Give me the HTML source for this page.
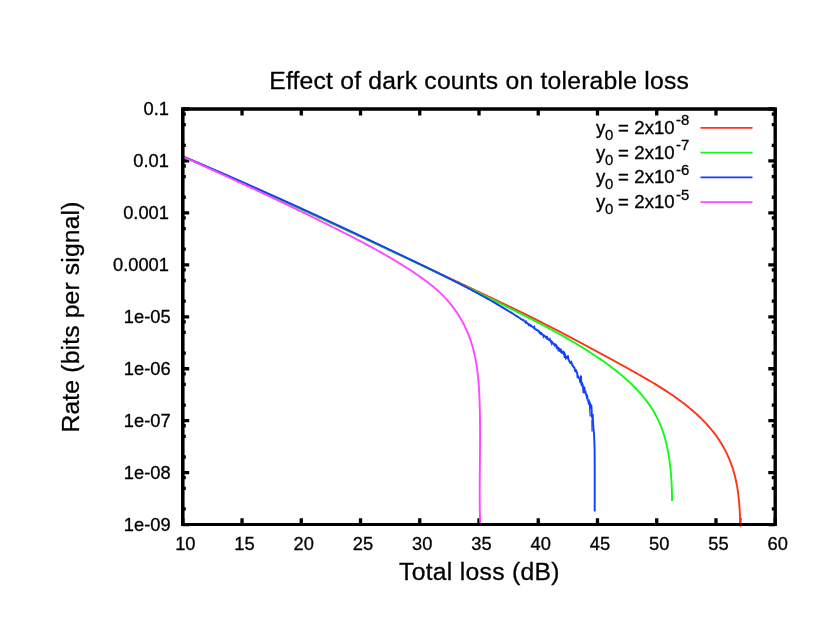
<!DOCTYPE html>
<html><head><meta charset="utf-8"><title>Effect of dark counts on tolerable loss</title>
<style>html,body{margin:0;padding:0;background:#fff;}svg{display:block;transform:translateZ(0);will-change:transform;}</style></head>
<body>
<svg width="830" height="642" viewBox="0 0 830 642">
<rect width="830" height="642" fill="#fff"/>
<g stroke="#000" stroke-width="3.3" fill="none">
<path d="M182.80,524.6 v-6.4 M182.80,109.0 v6.4"/>
<path d="M242.04,524.6 v-6.4 M242.04,109.0 v6.4"/>
<path d="M301.28,524.6 v-6.4 M301.28,109.0 v6.4"/>
<path d="M360.52,524.6 v-6.4 M360.52,109.0 v6.4"/>
<path d="M419.76,524.6 v-6.4 M419.76,109.0 v6.4"/>
<path d="M479.00,524.6 v-6.4 M479.00,109.0 v6.4"/>
<path d="M538.24,524.6 v-6.4 M538.24,109.0 v6.4"/>
<path d="M597.48,524.6 v-6.4 M597.48,109.0 v6.4"/>
<path d="M656.72,524.6 v-6.4 M656.72,109.0 v6.4"/>
<path d="M715.96,524.6 v-6.4 M715.96,109.0 v6.4"/>
<path d="M775.20,524.6 v-6.4 M775.20,109.0 v6.4"/>
<path d="M182.8,109.00 h6.4 M775.2,109.00 h-6.9"/>
<path d="M182.8,145.31 h3.0 M775.2,145.31 h-3.45"/>
<path d="M182.8,124.64 h3.0 M775.2,124.64 h-3.45"/>
<path d="M182.8,114.03 h3.0 M775.2,114.03 h-3.45"/>
<path d="M182.8,160.95 h6.4 M775.2,160.95 h-6.9"/>
<path d="M182.8,197.26 h3.0 M775.2,197.26 h-3.45"/>
<path d="M182.8,176.59 h3.0 M775.2,176.59 h-3.45"/>
<path d="M182.8,165.98 h3.0 M775.2,165.98 h-3.45"/>
<path d="M182.8,212.90 h6.4 M775.2,212.90 h-6.9"/>
<path d="M182.8,249.21 h3.0 M775.2,249.21 h-3.45"/>
<path d="M182.8,228.54 h3.0 M775.2,228.54 h-3.45"/>
<path d="M182.8,217.93 h3.0 M775.2,217.93 h-3.45"/>
<path d="M182.8,264.85 h6.4 M775.2,264.85 h-6.9"/>
<path d="M182.8,301.16 h3.0 M775.2,301.16 h-3.45"/>
<path d="M182.8,280.49 h3.0 M775.2,280.49 h-3.45"/>
<path d="M182.8,269.88 h3.0 M775.2,269.88 h-3.45"/>
<path d="M182.8,316.80 h6.4 M775.2,316.80 h-6.9"/>
<path d="M182.8,353.11 h3.0 M775.2,353.11 h-3.45"/>
<path d="M182.8,332.44 h3.0 M775.2,332.44 h-3.45"/>
<path d="M182.8,321.83 h3.0 M775.2,321.83 h-3.45"/>
<path d="M182.8,368.75 h6.4 M775.2,368.75 h-6.9"/>
<path d="M182.8,405.06 h3.0 M775.2,405.06 h-3.45"/>
<path d="M182.8,384.39 h3.0 M775.2,384.39 h-3.45"/>
<path d="M182.8,373.78 h3.0 M775.2,373.78 h-3.45"/>
<path d="M182.8,420.70 h6.4 M775.2,420.70 h-6.9"/>
<path d="M182.8,457.01 h3.0 M775.2,457.01 h-3.45"/>
<path d="M182.8,436.34 h3.0 M775.2,436.34 h-3.45"/>
<path d="M182.8,425.73 h3.0 M775.2,425.73 h-3.45"/>
<path d="M182.8,472.65 h6.4 M775.2,472.65 h-6.9"/>
<path d="M182.8,508.96 h3.0 M775.2,508.96 h-3.45"/>
<path d="M182.8,488.29 h3.0 M775.2,488.29 h-3.45"/>
<path d="M182.8,477.68 h3.0 M775.2,477.68 h-3.45"/>
<path d="M182.8,524.60 h6.4 M775.2,524.60 h-6.9"/>
</g>
<g fill="none" stroke-width="1.9" stroke-linejoin="round" stroke-linecap="butt">
<path stroke="#ff3414" d="M182.80,156.50 L184.09,157.06 L185.38,157.61 L186.66,158.17 L187.95,158.73 L189.24,159.28 L190.53,159.84 L191.81,160.40 L193.10,160.95 L194.39,161.51 L195.67,162.07 L196.96,162.63 L198.25,163.19 L199.53,163.75 L200.82,164.31 L202.10,164.87 L203.39,165.43 L204.68,165.99 L205.96,166.55 L207.25,167.12 L208.53,167.68 L209.82,168.24 L211.10,168.80 L212.39,169.37 L213.67,169.93 L214.96,170.50 L216.24,171.06 L217.53,171.62 L218.81,172.19 L220.10,172.76 L221.38,173.32 L222.67,173.89 L223.95,174.46 L225.23,175.02 L226.52,175.59 L227.80,176.16 L229.08,176.73 L230.37,177.29 L231.65,177.86 L232.93,178.43 L234.22,179.00 L235.50,179.57 L236.78,180.14 L238.07,180.71 L239.35,181.28 L240.63,181.86 L241.91,182.43 L243.20,183.00 L244.48,183.57 L245.76,184.14 L247.04,184.72 L248.33,185.29 L249.61,185.86 L250.89,186.44 L252.17,187.01 L253.45,187.59 L254.73,188.16 L256.02,188.74 L257.30,189.31 L258.58,189.89 L259.86,190.46 L261.14,191.04 L262.42,191.62 L263.70,192.19 L264.98,192.77 L266.26,193.35 L267.54,193.92 L268.82,194.50 L270.10,195.08 L271.38,195.66 L272.66,196.24 L273.94,196.82 L275.22,197.40 L276.50,197.98 L277.78,198.56 L279.06,199.14 L280.34,199.72 L281.62,200.30 L282.90,200.88 L284.18,201.46 L285.46,202.04 L286.74,202.62 L288.02,203.20 L289.30,203.79 L290.57,204.37 L291.85,204.95 L293.13,205.53 L294.41,206.12 L295.69,206.70 L296.97,207.28 L298.24,207.87 L299.52,208.45 L300.80,209.03 L302.08,209.62 L303.36,210.20 L304.63,210.79 L305.91,211.37 L307.19,211.96 L308.47,212.54 L309.74,213.13 L311.02,213.72 L312.30,214.30 L313.57,214.89 L314.85,215.47 L316.13,216.06 L317.41,216.65 L318.68,217.24 L319.96,217.82 L321.24,218.41 L322.51,219.00 L323.79,219.59 L325.06,220.17 L326.34,220.76 L327.62,221.35 L328.89,221.94 L330.17,222.53 L331.45,223.12 L332.72,223.70 L334.00,224.29 L335.27,224.88 L336.55,225.47 L337.82,226.06 L339.10,226.65 L340.37,227.24 L341.65,227.83 L342.93,228.42 L344.20,229.01 L345.48,229.60 L346.75,230.19 L348.03,230.78 L349.30,231.38 L350.58,231.97 L351.85,232.56 L353.12,233.15 L354.40,233.74 L355.67,234.33 L356.95,234.92 L358.22,235.52 L359.50,236.11 L360.77,236.70 L362.05,237.29 L363.32,237.88 L364.59,238.48 L365.87,239.07 L367.14,239.66 L368.41,240.25 L369.69,240.85 L370.96,241.44 L372.24,242.03 L373.51,242.63 L374.78,243.22 L376.06,243.81 L377.33,244.41 L378.60,245.00 L379.88,245.59 L381.15,246.19 L382.42,246.78 L383.70,247.37 L384.97,247.97 L386.24,248.56 L387.51,249.16 L388.79,249.75 L390.06,250.35 L391.33,250.94 L392.60,251.53 L393.88,252.13 L395.15,252.72 L396.42,253.32 L397.69,253.91 L398.97,254.51 L400.24,255.10 L401.51,255.70 L402.78,256.29 L404.06,256.88 L405.33,257.48 L406.60,258.07 L407.87,258.67 L409.14,259.26 L410.41,259.86 L411.69,260.45 L412.96,261.05 L414.23,261.64 L415.50,262.24 L416.77,262.83 L418.04,263.43 L419.32,264.02 L420.59,264.62 L421.86,265.21 L423.13,265.81 L424.40,266.40 L425.67,267.00 L426.94,267.59 L428.21,268.19 L429.48,268.78 L430.76,269.38 L432.03,269.97 L433.30,270.57 L434.57,271.16 L435.84,271.76 L437.11,272.35 L438.38,272.95 L439.65,273.54 L440.92,274.14 L442.19,274.74 L443.46,275.33 L444.73,275.93 L446.00,276.52 L447.27,277.12 L448.54,277.71 L449.81,278.31 L451.08,278.90 L452.35,279.50 L453.62,280.10 L454.89,280.69 L456.16,281.29 L457.43,281.88 L458.70,282.48 L459.97,283.08 L461.24,283.67 L462.51,284.27 L463.77,284.87 L465.04,285.46 L466.31,286.06 L467.58,286.66 L468.85,287.26 L470.12,287.85 L471.38,288.45 L472.65,289.05 L473.92,289.65 L475.19,290.25 L476.45,290.84 L477.72,291.44 L478.99,292.04 L480.25,292.64 L481.52,293.24 L482.79,293.84 L484.05,294.44 L485.32,295.04 L486.58,295.64 L487.85,296.24 L489.11,296.84 L490.38,297.44 L491.65,298.04 L492.91,298.65 L494.17,299.25 L495.44,299.85 L496.70,300.45 L497.97,301.06 L499.23,301.66 L500.49,302.26 L501.76,302.87 L503.02,303.47 L504.28,304.07 L505.55,304.68 L506.81,305.28 L508.07,305.89 L509.33,306.50 L510.59,307.10 L511.86,307.71 L513.12,308.32 L514.38,308.93 L515.64,309.54 L516.90,310.15 L518.16,310.76 L519.42,311.37 L520.68,311.99 L521.94,312.60 L523.20,313.22 L524.46,313.83 L525.72,314.45 L526.97,315.07 L528.23,315.69 L529.49,316.31 L530.75,316.93 L532.00,317.55 L533.26,318.18 L534.52,318.81 L535.77,319.43 L537.03,320.06 L538.28,320.69 L539.54,321.32 L540.79,321.96 L542.05,322.59 L543.30,323.23 L544.56,323.86 L545.81,324.50 L547.06,325.14 L548.32,325.79 L549.57,326.43 L550.82,327.07 L552.07,327.72 L553.33,328.37 L554.58,329.01 L555.83,329.66 L557.08,330.31 L558.33,330.96 L559.58,331.62 L560.83,332.27 L562.08,332.92 L563.32,333.58 L564.57,334.23 L565.82,334.89 L567.07,335.55 L568.32,336.21 L569.56,336.87 L570.81,337.53 L572.05,338.19 L573.30,338.85 L574.55,339.51 L575.79,340.17 L577.03,340.84 L578.28,341.50 L579.52,342.17 L580.76,342.83 L582.01,343.50 L583.25,344.16 L584.49,344.83 L585.73,345.49 L586.97,346.16 L588.21,346.83 L589.45,347.49 L590.69,348.16 L591.93,348.83 L593.17,349.50 L594.41,350.17 L595.65,350.83 L596.88,351.50 L598.12,352.17 L599.36,352.84 L600.59,353.51 L601.83,354.17 L603.06,354.84 L604.30,355.51 L605.53,356.18 L606.77,356.85 L608.00,357.51 L609.23,358.18 L610.46,358.85 L611.70,359.52 L612.93,360.19 L614.16,360.86 L615.39,361.53 L616.62,362.21 L617.85,362.88 L619.07,363.55 L620.30,364.23 L621.53,364.90 L622.76,365.58 L623.98,366.25 L625.21,366.93 L626.44,367.61 L627.66,368.29 L628.88,368.97 L630.11,369.65 L631.33,370.34 L632.55,371.02 L633.78,371.71 L635.00,372.40 L636.22,373.09 L637.44,373.78 L638.66,374.47 L639.88,375.16 L641.10,375.86 L642.31,376.56 L643.53,377.26 L644.75,377.96 L645.96,378.67 L647.18,379.37 L648.39,380.08 L649.60,380.80 L650.81,381.51 L652.02,382.23 L653.23,382.95 L654.43,383.67 L655.63,384.40 L656.83,385.13 L658.03,385.87 L659.22,386.61 L660.42,387.35 L661.61,388.10 L662.79,388.85 L663.98,389.61 L665.16,390.37 L666.34,391.13 L667.51,391.90 L668.68,392.68 L669.85,393.46 L671.01,394.24 L672.17,395.03 L673.33,395.83 L674.48,396.63 L675.63,397.44 L676.77,398.25 L677.91,399.07 L679.04,399.90 L680.17,400.73 L681.30,401.57 L682.41,402.41 L683.53,403.26 L684.64,404.12 L685.74,404.99 L686.84,405.86 L687.93,406.74 L689.02,407.63 L690.10,408.52 L691.18,409.43 L692.24,410.34 L693.31,411.25 L694.36,412.18 L695.41,413.12 L696.46,414.06 L697.49,415.01 L698.52,415.97 L699.54,416.94 L700.56,417.92 L701.56,418.91 L702.56,419.90 L703.55,420.90 L704.53,421.92 L705.50,422.94 L706.46,423.97 L707.41,425.00 L708.35,426.05 L709.28,427.11 L710.19,428.17 L711.10,429.25 L711.99,430.33 L712.88,431.42 L713.75,432.52 L714.60,433.63 L715.45,434.75 L716.28,435.88 L717.09,437.02 L717.89,438.16 L718.68,439.32 L719.45,440.48 L720.21,441.66 L720.95,442.84 L721.68,444.03 L722.39,445.23 L723.09,446.44 L723.77,447.66 L724.44,448.88 L725.09,450.12 L725.72,451.36 L726.34,452.61 L726.95,453.87 L727.54,455.13 L728.11,456.40 L728.67,457.68 L729.22,458.96 L729.75,460.26 L730.26,461.55 L730.76,462.86 L731.25,464.17 L731.72,465.49 L732.17,466.81 L732.61,468.14 L733.03,469.47 L733.44,470.81 L733.84,472.15 L734.22,473.50 L734.58,474.85 L734.93,476.21 L735.26,477.57 L735.58,478.93 L735.89,480.30 L736.18,481.68 L736.46,483.05 L736.73,484.43 L736.98,485.82 L737.22,487.20 L737.45,488.59 L737.67,489.98 L737.88,491.38 L738.07,492.77 L738.26,494.17 L738.43,495.57 L738.60,496.97 L738.75,498.38 L738.89,499.78 L739.03,501.19 L739.16,502.60 L739.28,504.00 L739.39,505.41 L739.49,506.82 L739.58,508.23 L739.67,509.64 L739.75,511.05 L739.83,512.46 L739.89,513.87 L739.96,515.28 L740.01,516.69 L740.07,518.09 L740.11,519.50 L740.15,520.90 L740.19,522.31 L740.23,523.71 L740.26,525.11 L740.28,526.50"/>
<path fill="#ff3414" stroke="none" d="M739.2,518 L741.9,518 L741.6,522 L740.5,528.2 L739.6,522 Z"/>
<path stroke="#12fa1a" d="M182.80,156.50 L183.96,157.01 L185.13,157.51 L186.29,158.01 L187.45,158.52 L188.62,159.02 L189.78,159.53 L190.94,160.03 L192.11,160.54 L193.27,161.04 L194.43,161.55 L195.60,162.05 L196.76,162.56 L197.92,163.07 L199.08,163.57 L200.25,164.08 L201.41,164.59 L202.57,165.09 L203.73,165.60 L204.89,166.11 L206.06,166.62 L207.22,167.13 L208.38,167.63 L209.54,168.14 L210.70,168.65 L211.86,169.16 L213.02,169.67 L214.18,170.18 L215.34,170.69 L216.50,171.20 L217.66,171.71 L218.82,172.22 L219.98,172.73 L221.14,173.24 L222.30,173.75 L223.46,174.27 L224.62,174.78 L225.78,175.29 L226.94,175.80 L228.10,176.31 L229.25,176.83 L230.41,177.34 L231.57,177.85 L232.73,178.36 L233.89,178.88 L235.05,179.39 L236.20,179.90 L237.36,180.42 L238.52,180.93 L239.68,181.45 L240.83,181.96 L241.99,182.48 L243.15,182.99 L244.30,183.51 L245.46,184.02 L246.62,184.54 L247.77,185.05 L248.93,185.57 L250.09,186.09 L251.24,186.60 L252.40,187.12 L253.55,187.64 L254.71,188.16 L255.87,188.67 L257.02,189.19 L258.18,189.71 L259.33,190.23 L260.49,190.74 L261.64,191.26 L262.80,191.78 L263.95,192.30 L265.11,192.82 L266.26,193.34 L267.42,193.86 L268.57,194.38 L269.73,194.90 L270.88,195.42 L272.03,195.94 L273.19,196.46 L274.34,196.98 L275.49,197.50 L276.65,198.02 L277.80,198.54 L278.96,199.07 L280.11,199.59 L281.26,200.11 L282.42,200.63 L283.57,201.16 L284.72,201.68 L285.87,202.20 L287.03,202.72 L288.18,203.25 L289.33,203.77 L290.48,204.29 L291.64,204.82 L292.79,205.34 L293.94,205.87 L295.09,206.39 L296.25,206.92 L297.40,207.44 L298.55,207.97 L299.70,208.49 L300.85,209.02 L302.00,209.54 L303.16,210.07 L304.31,210.60 L305.46,211.12 L306.61,211.65 L307.76,212.17 L308.91,212.70 L310.06,213.23 L311.21,213.76 L312.36,214.28 L313.51,214.81 L314.67,215.34 L315.82,215.87 L316.97,216.40 L318.12,216.92 L319.27,217.45 L320.42,217.98 L321.57,218.51 L322.72,219.04 L323.87,219.57 L325.02,220.10 L326.17,220.63 L327.32,221.16 L328.47,221.69 L329.62,222.22 L330.77,222.75 L331.92,223.28 L333.06,223.81 L334.21,224.34 L335.36,224.88 L336.51,225.41 L337.66,225.94 L338.81,226.47 L339.96,227.00 L341.11,227.53 L342.26,228.07 L343.41,228.60 L344.55,229.13 L345.70,229.67 L346.85,230.20 L348.00,230.73 L349.15,231.27 L350.30,231.80 L351.45,232.33 L352.59,232.87 L353.74,233.40 L354.89,233.94 L356.04,234.47 L357.19,235.01 L358.34,235.54 L359.48,236.08 L360.63,236.61 L361.78,237.15 L362.93,237.68 L364.08,238.22 L365.22,238.76 L366.37,239.29 L367.52,239.83 L368.67,240.37 L369.81,240.90 L370.96,241.44 L372.11,241.98 L373.26,242.52 L374.40,243.05 L375.55,243.59 L376.70,244.13 L377.85,244.67 L378.99,245.21 L380.14,245.74 L381.29,246.28 L382.43,246.82 L383.58,247.36 L384.73,247.90 L385.88,248.44 L387.02,248.98 L388.17,249.52 L389.32,250.06 L390.46,250.60 L391.61,251.14 L392.76,251.68 L393.90,252.22 L395.05,252.76 L396.20,253.30 L397.34,253.84 L398.49,254.38 L399.64,254.93 L400.78,255.47 L401.93,256.01 L403.08,256.55 L404.22,257.09 L405.37,257.64 L406.52,258.18 L407.66,258.72 L408.81,259.26 L409.96,259.81 L411.10,260.35 L412.25,260.89 L413.40,261.44 L414.54,261.98 L415.69,262.53 L416.84,263.07 L417.98,263.61 L419.13,264.16 L420.27,264.70 L421.42,265.25 L422.57,265.79 L423.71,266.34 L424.86,266.88 L426.01,267.43 L427.15,267.97 L428.30,268.52 L429.44,269.07 L430.59,269.61 L431.73,270.16 L432.88,270.71 L434.02,271.25 L435.17,271.80 L436.31,272.35 L437.46,272.90 L438.60,273.44 L439.75,273.99 L440.89,274.54 L442.04,275.09 L443.18,275.64 L444.33,276.19 L445.47,276.73 L446.62,277.28 L447.76,277.83 L448.90,278.38 L450.05,278.93 L451.19,279.48 L452.33,280.03 L453.48,280.59 L454.62,281.14 L455.76,281.69 L456.90,282.24 L458.05,282.79 L459.19,283.34 L460.33,283.90 L461.47,284.45 L462.61,285.00 L463.76,285.55 L464.90,286.11 L466.04,286.66 L467.18,287.22 L468.32,287.77 L469.46,288.32 L470.60,288.88 L471.74,289.43 L472.88,289.99 L474.02,290.55 L475.16,291.10 L476.30,291.66 L477.44,292.21 L478.58,292.77 L479.71,293.33 L480.85,293.89 L481.99,294.44 L483.13,295.00 L484.26,295.56 L485.40,296.12 L486.54,296.68 L487.68,297.24 L488.81,297.80 L489.95,298.36 L491.08,298.92 L492.22,299.48 L493.35,300.04 L494.49,300.60 L495.62,301.16 L496.76,301.72 L497.89,302.28 L499.02,302.84 L500.16,303.41 L501.29,303.97 L502.42,304.53 L503.55,305.10 L504.69,305.66 L505.82,306.23 L506.95,306.79 L508.08,307.36 L509.21,307.92 L510.34,308.49 L511.47,309.05 L512.60,309.62 L513.73,310.19 L514.86,310.75 L515.99,311.32 L517.11,311.89 L518.24,312.46 L519.37,313.03 L520.50,313.60 L521.62,314.16 L522.75,314.73 L523.87,315.30 L525.00,315.88 L526.12,316.45 L527.25,317.02 L528.37,317.59 L529.49,318.17 L530.62,318.74 L531.74,319.31 L532.86,319.89 L533.98,320.47 L535.10,321.05 L536.22,321.62 L537.34,322.20 L538.46,322.79 L539.58,323.37 L540.69,323.95 L541.81,324.54 L542.93,325.12 L544.04,325.71 L545.15,326.30 L546.27,326.89 L547.38,327.48 L548.49,328.07 L549.60,328.67 L550.71,329.27 L551.82,329.86 L552.93,330.47 L554.04,331.07 L555.15,331.67 L556.25,332.28 L557.36,332.88 L558.46,333.49 L559.56,334.11 L560.67,334.72 L561.77,335.34 L562.87,335.95 L563.97,336.58 L565.06,337.20 L566.16,337.82 L567.26,338.45 L568.35,339.08 L569.45,339.71 L570.54,340.35 L571.63,340.99 L572.72,341.63 L573.81,342.27 L574.90,342.92 L575.98,343.57 L577.07,344.22 L578.15,344.87 L579.24,345.53 L580.32,346.19 L581.40,346.85 L582.48,347.52 L583.56,348.19 L584.63,348.86 L585.71,349.54 L586.78,350.22 L587.85,350.90 L588.92,351.59 L589.99,352.28 L591.06,352.97 L592.13,353.67 L593.19,354.37 L594.26,355.07 L595.32,355.78 L596.38,356.49 L597.44,357.20 L598.50,357.92 L599.55,358.65 L600.61,359.37 L601.66,360.10 L602.71,360.84 L603.76,361.58 L604.81,362.32 L605.85,363.07 L606.89,363.82 L607.93,364.57 L608.97,365.33 L610.00,366.10 L611.03,366.87 L612.05,367.64 L613.08,368.42 L614.10,369.20 L615.11,369.99 L616.12,370.78 L617.12,371.58 L618.12,372.39 L619.12,373.19 L620.11,374.01 L621.10,374.82 L622.08,375.65 L623.05,376.48 L624.02,377.31 L624.99,378.15 L625.94,378.99 L626.90,379.84 L627.84,380.70 L628.78,381.56 L629.71,382.43 L630.63,383.30 L631.55,384.18 L632.46,385.06 L633.36,385.95 L634.26,386.85 L635.15,387.75 L636.03,388.66 L636.90,389.58 L637.76,390.50 L638.61,391.42 L639.46,392.36 L640.30,393.30 L641.12,394.24 L641.94,395.20 L642.75,396.16 L643.55,397.12 L644.34,398.10 L645.12,399.08 L645.89,400.06 L646.64,401.06 L647.39,402.06 L648.13,403.06 L648.86,404.08 L649.57,405.10 L650.28,406.13 L650.97,407.17 L651.65,408.21 L652.32,409.26 L652.98,410.32 L653.62,411.39 L654.25,412.46 L654.87,413.54 L655.48,414.63 L656.08,415.73 L656.66,416.83 L657.23,417.94 L657.78,419.06 L658.32,420.19 L658.85,421.33 L659.36,422.47 L659.86,423.62 L660.35,424.78 L660.83,425.95 L661.29,427.12 L661.74,428.30 L662.17,429.49 L662.60,430.68 L663.01,431.88 L663.41,433.08 L663.79,434.29 L664.17,435.51 L664.53,436.72 L664.89,437.95 L665.23,439.18 L665.56,440.41 L665.88,441.65 L666.19,442.89 L666.49,444.13 L666.78,445.38 L667.06,446.63 L667.32,447.88 L667.58,449.14 L667.83,450.40 L668.07,451.66 L668.31,452.92 L668.53,454.18 L668.74,455.44 L668.95,456.71 L669.14,457.98 L669.33,459.24 L669.51,460.51 L669.68,461.78 L669.85,463.04 L670.00,464.31 L670.15,465.58 L670.30,466.84 L670.43,468.11 L670.56,469.38 L670.68,470.64 L670.80,471.91 L670.91,473.17 L671.01,474.44 L671.11,475.70 L671.20,476.96 L671.29,478.23 L671.37,479.49 L671.44,480.75 L671.51,482.02 L671.58,483.28 L671.64,484.54 L671.69,485.80 L671.75,487.06 L671.79,488.32 L671.84,489.58 L671.88,490.84 L671.92,492.10 L671.95,493.36 L671.98,494.62 L672.01,495.87 L672.03,497.13 L672.05,498.39 L672.07,499.64 L672.09,500.90"/>
<path stroke="#123eff" stroke-linejoin="miter" stroke-miterlimit="3.2" d="M182.80,156.30 L183.22,156.48 L183.64,156.65 L184.06,156.83 L184.48,157.01 L184.90,157.19 L185.32,157.37 L185.74,157.54 L186.16,157.72 L186.58,157.90 L187.00,158.08 L187.42,158.26 L187.84,158.44 L188.26,158.61 L188.68,158.79 L189.10,158.97 L189.52,159.15 L189.94,159.33 L190.36,159.51 L190.78,159.69 L191.20,159.87 L191.62,160.04 L192.04,160.22 L192.46,160.40 L192.88,160.58 L193.30,160.76 L193.72,160.94 L194.14,161.12 L194.56,161.30 L194.98,161.48 L195.40,161.66 L195.82,161.84 L196.24,162.02 L196.66,162.20 L197.08,162.38 L197.50,162.55 L197.92,162.73 L198.34,162.91 L198.76,163.09 L199.18,163.27 L199.60,163.45 L200.02,163.63 L200.44,163.81 L200.86,163.99 L201.28,164.17 L201.70,164.35 L202.12,164.53 L202.54,164.71 L202.96,164.90 L203.38,165.08 L203.80,165.26 L204.22,165.44 L204.64,165.62 L205.06,165.80 L205.48,165.98 L205.90,166.16 L206.32,166.34 L206.74,166.52 L207.16,166.70 L207.58,166.88 L208.00,167.06 L208.42,167.24 L208.84,167.43 L209.26,167.61 L209.68,167.79 L210.10,167.97 L210.52,168.15 L210.94,168.33 L211.36,168.51 L211.78,168.69 L212.20,168.88 L212.62,169.06 L213.04,169.24 L213.46,169.42 L213.88,169.60 L214.30,169.78 L214.72,169.96 L215.14,170.15 L215.56,170.33 L215.98,170.51 L216.40,170.69 L216.82,170.87 L217.24,171.06 L217.66,171.24 L218.08,171.42 L218.50,171.60 L218.92,171.79 L219.34,171.97 L219.76,172.15 L220.18,172.33 L220.60,172.51 L221.02,172.70 L221.44,172.88 L221.86,173.06 L222.28,173.25 L222.70,173.43 L223.12,173.61 L223.54,173.79 L223.96,173.98 L224.38,174.16 L224.80,174.34 L225.22,174.53 L225.64,174.71 L226.06,174.89 L226.48,175.07 L226.90,175.26 L227.32,175.44 L227.74,175.62 L228.16,175.81 L228.58,175.99 L229.00,176.17 L229.42,176.36 L229.84,176.54 L230.26,176.72 L230.68,176.91 L231.10,177.09 L231.52,177.28 L231.94,177.46 L232.36,177.64 L232.78,177.83 L233.20,178.01 L233.62,178.20 L234.04,178.38 L234.46,178.56 L234.88,178.75 L235.30,178.93 L235.72,179.12 L236.14,179.30 L236.56,179.48 L236.98,179.67 L237.40,179.85 L237.82,180.04 L238.24,180.22 L238.66,180.41 L239.08,180.59 L239.50,180.78 L239.92,180.96 L240.34,181.15 L240.76,181.33 L241.18,181.52 L241.60,181.70 L242.02,181.89 L242.44,182.07 L242.86,182.26 L243.28,182.44 L243.70,182.63 L244.12,182.81 L244.54,183.00 L244.96,183.18 L245.38,183.37 L245.80,183.55 L246.22,183.74 L246.64,183.92 L247.06,184.11 L247.48,184.29 L247.90,184.48 L248.32,184.67 L248.74,184.85 L249.16,185.04 L249.58,185.22 L250.00,185.41 L250.42,185.60 L250.84,185.78 L251.26,185.97 L251.68,186.15 L252.10,186.34 L252.52,186.53 L252.94,186.71 L253.36,186.90 L253.78,187.08 L254.20,187.27 L254.62,187.46 L255.04,187.64 L255.46,187.83 L255.88,188.02 L256.30,188.20 L256.72,188.39 L257.14,188.58 L257.56,188.76 L257.98,188.95 L258.40,189.14 L258.82,189.32 L259.24,189.51 L259.66,189.70 L260.08,189.88 L260.50,190.07 L260.92,190.26 L261.34,190.45 L261.76,190.63 L262.18,190.82 L262.60,191.01 L263.02,191.20 L263.44,191.38 L263.86,191.57 L264.28,191.76 L264.70,191.94 L265.12,192.13 L265.54,192.32 L265.96,192.51 L266.38,192.70 L266.80,192.88 L267.22,193.07 L267.64,193.26 L268.06,193.45 L268.48,193.63 L268.90,193.82 L269.32,194.01 L269.74,194.20 L270.16,194.39 L270.58,194.58 L271.00,194.76 L271.42,194.95 L271.84,195.14 L272.26,195.33 L272.68,195.52 L273.10,195.71 L273.52,195.89 L273.94,196.08 L274.36,196.27 L274.78,196.46 L275.20,196.65 L275.62,196.84 L276.04,197.03 L276.46,197.21 L276.88,197.40 L277.30,197.59 L277.72,197.78 L278.14,197.97 L278.56,198.16 L278.98,198.35 L279.40,198.54 L279.82,198.73 L280.24,198.92 L280.66,199.11 L281.08,199.29 L281.50,199.48 L281.92,199.67 L282.34,199.86 L282.76,200.05 L283.18,200.24 L283.60,200.43 L284.02,200.62 L284.44,200.81 L284.86,201.00 L285.28,201.19 L285.70,201.38 L286.12,201.57 L286.54,201.76 L286.96,201.95 L287.38,202.14 L287.80,202.33 L288.22,202.52 L288.64,202.71 L289.06,202.90 L289.48,203.09 L289.90,203.28 L290.32,203.47 L290.74,203.66 L291.16,203.85 L291.58,204.04 L292.00,204.23 L292.42,204.42 L292.84,204.61 L293.26,204.80 L293.68,205.00 L294.10,205.19 L294.52,205.38 L294.94,205.57 L295.36,205.76 L295.78,205.95 L296.20,206.14 L296.62,206.33 L297.04,206.52 L297.46,206.71 L297.88,206.90 L298.30,207.10 L298.72,207.29 L299.14,207.48 L299.56,207.67 L299.98,207.86 L300.40,208.05 L300.82,208.24 L301.24,208.44 L301.66,208.63 L302.08,208.82 L302.50,209.01 L302.92,209.20 L303.34,209.39 L303.76,209.58 L304.18,209.78 L304.60,209.97 L305.02,210.16 L305.44,210.35 L305.86,210.54 L306.28,210.74 L306.70,210.93 L307.12,211.12 L307.54,211.31 L307.96,211.50 L308.38,211.70 L308.80,211.89 L309.22,212.08 L309.64,212.27 L310.06,212.47 L310.48,212.66 L310.90,212.85 L311.32,213.04 L311.74,213.24 L312.16,213.43 L312.58,213.62 L313.00,213.81 L313.42,214.01 L313.84,214.20 L314.26,214.39 L314.68,214.58 L315.10,214.78 L315.52,214.97 L315.94,215.16 L316.36,215.36 L316.78,215.55 L317.20,215.74 L317.62,215.94 L318.04,216.13 L318.46,216.32 L318.88,216.52 L319.30,216.71 L319.72,216.90 L320.14,217.09 L320.56,217.29 L320.98,217.48 L321.40,217.68 L321.82,217.87 L322.24,218.06 L322.66,218.26 L323.08,218.45 L323.50,218.64 L323.92,218.84 L324.34,219.03 L324.76,219.22 L325.18,219.42 L325.60,219.61 L326.02,219.81 L326.44,220.00 L326.86,220.19 L327.28,220.39 L327.70,220.58 L328.12,220.78 L328.54,220.97 L328.96,221.17 L329.38,221.36 L329.80,221.55 L330.22,221.75 L330.64,221.94 L331.06,222.14 L331.48,222.33 L331.90,222.53 L332.32,222.72 L332.74,222.92 L333.16,223.11 L333.58,223.30 L334.00,223.50 L334.42,223.69 L334.84,223.89 L335.26,224.08 L335.68,224.28 L336.10,224.47 L336.52,224.67 L336.94,224.86 L337.36,225.06 L337.78,225.25 L338.20,225.45 L338.62,225.64 L339.04,225.84 L339.46,226.03 L339.88,226.23 L340.30,226.42 L340.72,226.62 L341.14,226.82 L341.56,227.01 L341.98,227.21 L342.40,227.40 L342.82,227.60 L343.24,227.79 L343.66,227.99 L344.08,228.18 L344.50,228.38 L344.92,228.58 L345.34,228.77 L345.76,228.97 L346.18,229.16 L346.60,229.36 L347.02,229.56 L347.44,229.75 L347.86,229.95 L348.28,230.14 L348.70,230.34 L349.12,230.54 L349.54,230.73 L349.96,230.93 L350.38,231.12 L350.80,231.32 L351.22,231.52 L351.64,231.71 L352.06,231.91 L352.48,232.11 L352.90,232.30 L353.32,232.50 L353.74,232.70 L354.16,232.89 L354.58,233.09 L355.00,233.29 L355.42,233.48 L355.84,233.68 L356.26,233.88 L356.68,234.07 L357.10,234.27 L357.52,234.47 L357.94,234.66 L358.36,234.86 L358.78,235.06 L359.20,235.25 L359.62,235.45 L360.04,235.65 L360.46,235.85 L360.88,236.04 L361.30,236.24 L361.72,236.44 L362.14,236.63 L362.56,236.83 L362.98,237.03 L363.40,237.23 L363.82,237.42 L364.24,237.62 L364.66,237.82 L365.08,238.02 L365.50,238.21 L365.92,238.41 L366.34,238.61 L366.76,238.81 L367.18,239.01 L367.60,239.20 L368.02,239.40 L368.44,239.60 L368.86,239.80 L369.28,239.99 L369.70,240.19 L370.12,240.39 L370.54,240.59 L370.96,240.79 L371.38,240.99 L371.80,241.18 L372.22,241.38 L372.64,241.58 L373.06,241.78 L373.48,241.98 L373.90,242.17 L374.32,242.37 L374.74,242.57 L375.16,242.77 L375.58,242.97 L376.00,243.17 L376.42,243.37 L376.84,243.56 L377.26,243.76 L377.68,243.96 L378.10,244.16 L378.52,244.36 L378.94,244.56 L379.36,244.76 L379.78,244.96 L380.20,245.15 L380.62,245.35 L381.04,245.55 L381.46,245.75 L381.88,245.95 L382.30,246.15 L382.72,246.35 L383.14,246.55 L383.56,246.75 L383.98,246.95 L384.40,247.14 L384.82,247.34 L385.24,247.54 L385.66,247.74 L386.08,247.94 L386.50,248.14 L386.92,248.34 L387.34,248.54 L387.76,248.74 L388.18,248.94 L388.60,249.14 L389.02,249.34 L389.44,249.54 L389.86,249.74 L390.28,249.94 L390.70,250.14 L391.12,250.34 L391.54,250.54 L391.96,250.74 L392.38,250.94 L392.80,251.14 L393.22,251.34 L393.64,251.54 L394.06,251.74 L394.48,251.94 L394.90,252.14 L395.32,252.34 L395.74,252.54 L396.16,252.74 L396.58,252.94 L397.00,253.14 L397.42,253.34 L397.84,253.54 L398.26,253.74 L398.68,253.94 L399.10,254.14 L399.52,254.34 L399.94,254.54 L400.36,254.74 L400.78,254.94 L401.20,255.14 L401.62,255.34 L402.04,255.54 L402.46,255.74 L402.88,255.94 L403.30,256.15 L403.72,256.35 L404.14,256.55 L404.56,256.75 L404.98,256.95 L405.40,257.15 L405.82,257.35 L406.24,257.55 L406.66,257.75 L407.08,257.95 L407.50,258.15 L407.92,258.36 L408.34,258.56 L408.76,258.76 L409.18,258.96 L409.60,259.16 L410.02,259.36 L410.44,259.56 L410.86,259.76 L411.28,259.97 L411.70,260.17 L412.12,260.37 L412.54,260.57 L412.96,260.77 L413.38,260.97 L413.80,261.18 L414.22,261.38 L414.64,261.58 L415.06,261.78 L415.48,261.98 L415.90,262.18 L416.32,262.39 L416.74,262.59 L417.16,262.79 L417.58,262.99 L418.00,263.19 L418.42,263.40 L418.84,263.60 L419.26,263.80 L419.68,264.00 L420.10,264.21 L420.52,264.41 L420.94,264.61 L421.36,264.81 L421.78,265.02 L422.20,265.22 L422.62,265.42 L423.04,265.62 L423.46,265.83 L423.88,266.03 L424.30,266.23 L424.72,266.44 L425.14,266.64 L425.56,266.84 L425.98,267.05 L426.40,267.25 L426.82,267.46 L427.24,267.66 L427.66,267.86 L428.08,268.07 L428.50,268.27 L428.92,268.48 L429.34,268.68 L429.76,268.88 L430.18,269.09 L430.60,269.29 L431.02,269.50 L431.44,269.70 L431.86,269.91 L432.28,270.11 L432.70,270.32 L433.12,270.52 L433.54,270.73 L433.96,270.93 L434.38,271.14 L434.80,271.35 L435.22,271.55 L435.64,271.76 L436.06,271.96 L436.48,272.17 L436.90,272.38 L437.32,272.58 L437.74,272.79 L438.16,273.00 L438.58,273.20 L439.00,273.41 L439.42,273.62 L439.84,273.83 L440.26,274.03 L440.68,274.24 L441.10,274.45 L441.52,274.66 L441.94,274.87 L442.36,275.07 L442.78,275.28 L443.20,275.49 L443.62,275.70 L444.04,275.91 L444.46,276.12 L444.88,276.33 L445.30,276.54 L445.72,276.75 L446.14,276.95 L446.56,277.16 L446.98,277.37 L447.40,277.58 L447.82,277.80 L448.24,278.01 L448.66,278.22 L449.08,278.43 L449.50,278.64 L449.92,278.85 L450.34,279.06 L450.76,279.27 L451.18,279.48 L451.60,279.70 L452.02,279.91 L452.44,280.12 L452.86,280.33 L453.28,280.55 L453.70,280.76 L454.12,280.97 L454.54,281.19 L454.96,281.40 L455.38,281.61 L455.80,281.83 L456.22,282.04 L456.64,282.26 L457.06,282.47 L457.48,282.69 L457.90,282.90 L458.32,283.12 L458.74,283.33 L459.16,283.55 L459.58,283.76 L460.00,283.98 L460.42,284.20 L460.84,284.41 L461.26,284.63 L461.68,284.85 L462.10,285.06 L462.52,285.28 L462.94,285.50 L463.36,285.72 L463.78,285.93 L464.20,286.15 L464.62,286.37 L465.04,286.59 L465.46,286.81 L465.88,287.03 L466.30,287.25 L466.72,287.47 L467.14,287.69 L467.56,287.91 L467.98,288.13 L468.40,288.35 L468.82,288.57 L469.24,288.79 L469.66,289.02 L470.08,289.24 L470.50,289.46 L470.92,289.68 L471.34,289.91 L471.76,290.13 L472.18,290.35 L472.60,290.58 L473.02,290.80 L473.44,291.02 L473.86,291.25 L474.28,291.47 L474.70,291.70 L475.12,291.92 L475.54,292.15 L475.96,292.38 L476.38,292.60 L476.80,292.83 L477.22,293.06 L477.64,293.28 L478.06,293.51 L478.48,293.74 L478.90,293.97 L479.32,294.20 L479.74,294.42 L480.16,294.65 L480.58,294.88 L481.00,295.11 L481.42,295.34 L481.84,295.57 L482.26,295.80 L482.68,296.03 L483.10,296.27 L483.52,296.50 L483.94,296.73 L484.36,296.96 L484.78,297.19 L485.20,297.43 L485.62,297.66 L486.04,297.90 L486.46,298.13 L486.88,298.36 L487.30,298.60 L487.72,298.83 L488.14,299.07 L488.56,299.31 L488.98,299.54 L489.40,299.78 L489.82,300.02 L490.24,300.25 L490.66,300.49 L491.08,300.73 L491.50,300.97 L491.92,301.21 L492.34,301.45 L492.76,301.69 L493.18,301.93 L493.60,302.17 L494.02,302.41 L494.44,302.65 L494.86,302.89 L495.28,303.13 L495.70,303.37 L496.12,303.62 L496.54,303.86 L496.96,304.10 L497.38,304.35 L497.80,304.59 L498.22,304.84 L498.64,305.08 L499.06,305.33 L499.48,305.57 L499.90,305.82 L500.32,306.07 L500.74,306.32 L501.16,306.56 L501.58,306.81 L502.00,307.06 L502.42,307.31 L502.84,307.56 L503.26,307.81 L503.68,308.06 L504.10,308.31 L504.52,308.56 L504.94,308.82 L505.36,309.07 L505.78,309.32 L506.20,309.58 L506.62,309.83 L507.04,310.09 L507.46,310.35 L507.88,310.59 L508.30,310.86 L508.72,311.11 L509.14,311.37 L509.56,311.71 L509.98,311.99 L510.40,312.23 L510.82,312.27 L511.24,312.70 L511.66,312.92 L512.08,313.17 L512.50,313.40 L512.92,313.56 L513.34,313.88 L513.76,314.22 L514.18,314.54 L514.60,314.78 L515.02,315.08 L515.44,315.32 L515.86,315.56 L516.28,316.06 L516.70,316.09 L517.12,316.30 L517.54,316.66 L517.96,316.90 L518.38,317.25 L518.80,317.48 L519.22,317.72 L519.64,317.93 L520.06,318.32 L520.48,318.59 L520.90,319.08 L521.32,319.09 L521.74,319.34 L522.16,319.67 L522.58,319.98 L523.00,320.23 L523.42,319.99 L523.84,320.62 L524.26,321.13 L524.68,321.40 L525.10,321.58 L525.52,322.39 L525.94,321.68 L526.36,322.33 L526.78,322.80 L527.20,323.08 L527.62,323.24 L528.04,323.79 L528.46,324.63 L528.88,324.21 L529.30,324.52 L529.72,324.99 L530.14,325.69 L530.56,325.30 L530.98,325.61 L531.40,325.97 L531.82,326.37 L532.24,326.55 L532.66,326.92 L533.08,327.14 L533.50,327.53 L533.92,328.07 L534.34,327.27 L534.76,328.91 L535.18,329.13 L535.60,329.22 L536.02,329.32 L536.44,329.88 L536.86,329.97 L537.28,330.36 L537.70,330.67 L538.12,330.69 L538.54,330.70 L538.96,331.52 L539.38,332.62 L539.80,332.13 L540.22,332.66 L540.64,333.32 L541.06,332.22 L541.48,334.12 L541.90,333.89 L542.32,334.51 L542.74,334.66 L543.16,334.84 L543.58,336.66 L544.00,336.20 L544.42,335.68 L544.84,336.12 L545.26,336.72 L545.68,337.16 L546.10,337.59 L546.52,337.12 L546.94,338.18 L547.36,337.60 L547.78,338.85 L548.20,338.99 L548.62,339.55 L549.04,339.44 L549.46,339.84 L549.88,339.22 L550.30,340.65 L550.72,340.94 L551.14,342.03 L551.56,343.17 L551.98,341.91 L552.40,342.37 L552.82,343.46 L553.24,343.53 L553.66,343.85 L554.08,344.41 L554.50,345.16 L554.92,344.36 L555.34,344.94 L555.76,343.95 L556.18,346.27 L556.60,346.27 L557.02,349.07 L557.44,346.89 L557.86,348.00 L558.28,348.00 L558.70,351.41 L559.12,349.55 L559.54,348.78 L559.96,349.08 L560.38,351.88 L560.80,350.42 L561.22,353.20 L561.64,351.09 L562.06,351.87 L562.48,352.86 L562.90,353.31 L563.32,353.66 L563.74,352.04 L564.16,352.43 L564.58,357.84 L565.00,353.56 L565.42,356.43 L565.84,358.08 L566.26,357.27 L566.68,356.99 L567.10,357.73 L567.52,357.44 L567.94,355.47 L568.36,359.48 L568.78,359.81 L569.20,361.06 L569.62,361.65 L570.04,362.13 L570.46,363.86 L570.88,362.29 L571.30,361.95 L571.72,363.33 L572.14,364.76 L572.56,365.72 L572.98,365.63 L573.40,366.89 L573.82,367.55 L574.24,367.48 L574.66,368.20 L575.08,370.94 L575.50,371.21 L575.92,369.64 L576.34,371.03 L576.76,372.79 L577.18,372.96 L577.60,378.13 L578.02,376.00 L578.44,376.90 L578.86,377.79 L579.28,378.69 L579.70,379.24 L580.12,381.88 L580.54,383.05 L580.96,375.66 L581.38,384.25 L581.80,385.03 L582.22,383.68 L582.64,384.59 L583.06,387.29 L583.48,393.23 L583.90,387.83 L584.32,386.56 L584.74,391.13 L585.16,392.38 L585.58,392.08 L586.00,394.37 L586.42,395.41 L586.84,397.06 L587.26,396.47 L587.68,399.96 L588.10,400.19 L588.52,402.13 L588.94,401.46 L589.36,404.96 L589.78,401.76 L590.20,406.94 L590.62,408.86 L591.04,404.53 L591.46,406.31 L591.88,415.75 L592.30,418.26 L592.72,414.01 L593.14,423.75 L593.56,429.55 L593.98,433.50 L594.40,442.10 L594.62,450.00 L594.70,470.00 L594.70,511.40"/>
<path stroke="#123eff" stroke-width="1.3" d="M589.4,403 L590.2,416.5 M591.9,419.5 L592.1,431.5"/>
<path stroke="#ff48ff" d="M182.80,156.61 L183.77,157.04 L184.75,157.48 L185.73,157.92 L186.70,158.35 L187.68,158.79 L188.65,159.23 L189.63,159.67 L190.61,160.10 L191.58,160.54 L192.56,160.98 L193.53,161.42 L194.51,161.86 L195.48,162.30 L196.46,162.73 L197.43,163.17 L198.41,163.61 L199.38,164.05 L200.36,164.49 L201.33,164.93 L202.30,165.37 L203.28,165.81 L204.25,166.25 L205.22,166.69 L206.20,167.13 L207.17,167.57 L208.15,168.02 L209.12,168.46 L210.09,168.90 L211.06,169.34 L212.04,169.78 L213.01,170.22 L213.98,170.67 L214.95,171.11 L215.93,171.55 L216.90,171.99 L217.87,172.44 L218.84,172.88 L219.81,173.32 L220.79,173.77 L221.76,174.21 L222.73,174.66 L223.70,175.10 L224.67,175.55 L225.64,175.99 L226.61,176.44 L227.58,176.88 L228.55,177.33 L229.52,177.77 L230.49,178.22 L231.46,178.66 L232.43,179.11 L233.40,179.56 L234.37,180.00 L235.34,180.45 L236.31,180.90 L237.28,181.35 L238.25,181.80 L239.22,182.24 L240.19,182.69 L241.16,183.14 L242.12,183.59 L243.09,184.04 L244.06,184.49 L245.03,184.94 L246.00,185.39 L246.97,185.84 L247.93,186.29 L248.90,186.74 L249.87,187.19 L250.84,187.64 L251.80,188.09 L252.77,188.54 L253.74,188.99 L254.70,189.45 L255.67,189.90 L256.64,190.35 L257.60,190.80 L258.57,191.26 L259.54,191.71 L260.50,192.16 L261.47,192.62 L262.43,193.07 L263.40,193.53 L264.37,193.98 L265.33,194.44 L266.30,194.89 L267.26,195.35 L268.23,195.80 L269.19,196.26 L270.16,196.71 L271.12,197.17 L272.08,197.63 L273.05,198.09 L274.01,198.54 L274.98,199.00 L275.94,199.46 L276.91,199.92 L277.87,200.38 L278.83,200.83 L279.80,201.29 L280.76,201.75 L281.72,202.21 L282.69,202.67 L283.65,203.13 L284.61,203.59 L285.57,204.05 L286.54,204.52 L287.50,204.98 L288.46,205.44 L289.42,205.90 L290.38,206.36 L291.35,206.83 L292.31,207.29 L293.27,207.75 L294.23,208.22 L295.19,208.68 L296.15,209.14 L297.11,209.61 L298.08,210.07 L299.04,210.54 L300.00,211.00 L300.96,211.47 L301.92,211.94 L302.88,212.40 L303.84,212.87 L304.80,213.34 L305.76,213.80 L306.72,214.27 L307.68,214.74 L308.64,215.21 L309.60,215.68 L310.56,216.14 L311.51,216.61 L312.47,217.08 L313.43,217.55 L314.39,218.02 L315.35,218.49 L316.31,218.96 L317.27,219.44 L318.22,219.91 L319.18,220.38 L320.14,220.85 L321.10,221.32 L322.06,221.80 L323.01,222.27 L323.97,222.74 L324.93,223.22 L325.89,223.69 L326.84,224.17 L327.80,224.64 L328.76,225.12 L329.71,225.59 L330.67,226.07 L331.63,226.55 L332.58,227.02 L333.54,227.50 L334.49,227.98 L335.45,228.46 L336.40,228.93 L337.36,229.41 L338.32,229.89 L339.27,230.37 L340.22,230.85 L341.18,231.34 L342.13,231.82 L343.09,232.30 L344.04,232.78 L344.99,233.27 L345.95,233.75 L346.90,234.24 L347.85,234.72 L348.80,235.21 L349.75,235.70 L350.70,236.18 L351.65,236.67 L352.60,237.16 L353.55,237.65 L354.50,238.15 L355.45,238.64 L356.40,239.13 L357.35,239.63 L358.30,240.12 L359.24,240.62 L360.19,241.12 L361.14,241.61 L362.08,242.11 L363.03,242.61 L363.97,243.12 L364.91,243.62 L365.86,244.12 L366.80,244.63 L367.74,245.13 L368.68,245.64 L369.62,246.15 L370.56,246.66 L371.50,247.17 L372.44,247.68 L373.38,248.20 L374.31,248.71 L375.25,249.23 L376.19,249.75 L377.12,250.26 L378.06,250.79 L378.99,251.31 L379.92,251.83 L380.85,252.36 L381.78,252.88 L382.71,253.41 L383.64,253.94 L384.57,254.47 L385.50,255.00 L386.43,255.54 L387.35,256.07 L388.28,256.61 L389.20,257.15 L390.13,257.69 L391.05,258.23 L391.97,258.78 L392.89,259.32 L393.81,259.87 L394.73,260.42 L395.64,260.97 L396.56,261.53 L397.48,262.08 L398.39,262.64 L399.30,263.20 L400.22,263.76 L401.13,264.32 L402.04,264.88 L402.95,265.45 L403.85,266.02 L404.76,266.59 L405.67,267.16 L406.57,267.74 L407.47,268.31 L408.38,268.89 L409.28,269.47 L410.18,270.06 L411.08,270.64 L411.97,271.23 L412.87,271.82 L413.76,272.41 L414.66,273.01 L415.55,273.61 L416.43,274.21 L417.32,274.81 L418.20,275.42 L419.09,276.03 L419.96,276.64 L420.84,277.26 L421.71,277.88 L422.58,278.51 L423.45,279.13 L424.31,279.77 L425.17,280.40 L426.03,281.04 L426.88,281.68 L427.73,282.33 L428.58,282.99 L429.42,283.64 L430.26,284.30 L431.09,284.97 L431.92,285.64 L432.74,286.32 L433.56,287.00 L434.38,287.69 L435.19,288.38 L435.99,289.07 L436.79,289.78 L437.58,290.49 L438.37,291.20 L439.15,291.92 L439.93,292.64 L440.70,293.38 L441.46,294.11 L442.22,294.86 L442.97,295.61 L443.72,296.37 L444.45,297.13 L445.19,297.90 L445.91,298.68 L446.63,299.46 L447.34,300.25 L448.04,301.05 L448.74,301.85 L449.43,302.67 L450.11,303.49 L450.78,304.31 L451.45,305.14 L452.11,305.98 L452.76,306.83 L453.40,307.68 L454.04,308.53 L454.66,309.40 L455.28,310.27 L455.90,311.14 L456.50,312.02 L457.10,312.91 L457.68,313.80 L458.26,314.70 L458.84,315.60 L459.40,316.51 L459.96,317.42 L460.50,318.34 L461.04,319.27 L461.57,320.20 L462.09,321.13 L462.61,322.07 L463.11,323.01 L463.61,323.96 L464.10,324.91 L464.58,325.87 L465.05,326.83 L465.51,327.79 L465.96,328.76 L466.41,329.73 L466.84,330.71 L467.27,331.69 L467.68,332.67 L468.09,333.66 L468.49,334.65 L468.88,335.64 L469.26,336.64 L469.63,337.64 L470.00,338.65 L470.35,339.65 L470.69,340.66 L471.03,341.67 L471.36,342.69 L471.68,343.71 L471.99,344.73 L472.29,345.75 L472.59,346.77 L472.87,347.80 L473.15,348.83 L473.42,349.86 L473.69,350.89 L473.94,351.93 L474.19,352.96 L474.43,354.00 L474.67,355.04 L474.89,356.08 L475.11,357.13 L475.32,358.17 L475.53,359.21 L475.73,360.26 L475.92,361.31 L476.11,362.35 L476.28,363.40 L476.46,364.45 L476.62,365.50 L476.78,366.55 L476.94,367.60 L477.09,368.65 L477.23,369.71 L477.37,370.76 L477.50,371.81 L477.63,372.87 L477.75,373.92 L477.87,374.98 L477.98,376.04 L478.09,377.09 L478.19,378.15 L478.29,379.21 L478.38,380.27 L478.47,381.33 L478.56,382.39 L478.64,383.45 L478.72,384.51 L478.80,385.57 L478.87,386.63 L478.94,387.70 L479.00,388.76 L479.06,389.83 L479.12,390.89 L479.18,391.96 L479.23,393.02 L479.28,394.09 L479.33,395.15 L479.38,396.22 L479.42,397.29 L479.46,398.36 L479.50,399.42 L479.54,400.49 L479.58,401.56 L479.62,402.63 L479.65,403.70 L479.68,404.77 L479.71,405.84 L479.74,406.91 L479.77,407.98 L479.80,409.06 L479.82,410.13 L479.85,411.20 L479.87,412.27 L479.89,413.34 L479.91,414.42 L479.93,415.49 L479.95,416.57 L479.96,417.64 L479.98,418.71 L479.99,419.79 L480.00,420.86 L480.01,421.94 L480.03,423.01 L480.03,424.09 L480.04,425.16 L480.05,426.24 L480.06,427.31 L480.06,428.39 L480.07,429.47 L480.07,430.54 L480.07,431.62 L480.07,432.69 L480.08,433.77 L480.08,434.85 L480.08,435.92 L480.07,437.00 L480.07,438.08 L480.07,439.15 L480.07,440.23 L480.06,441.31 L480.06,442.38 L480.05,443.46 L480.05,444.54 L480.04,445.61 L480.04,446.69 L480.03,447.77 L480.02,448.84 L480.01,449.92 L480.01,451.00 L480.00,452.07 L479.99,453.15 L479.98,454.23 L479.97,455.30 L479.96,456.38 L479.95,457.46 L479.94,458.53 L479.93,459.61 L479.92,460.68 L479.91,461.76 L479.90,462.83 L479.89,463.91 L479.88,464.98 L479.87,466.06 L479.86,467.13 L479.85,468.21 L479.84,469.28 L479.83,470.35 L479.82,471.43 L479.82,472.50 L479.81,473.57 L479.80,474.65 L479.79,475.72 L479.78,476.79 L479.77,477.86 L479.77,478.93 L479.76,480.00 L479.75,481.08 L479.75,482.15 L479.74,483.22 L479.73,484.28 L479.73,485.35 L479.73,486.42 L479.72,487.49 L479.72,488.56 L479.72,489.63 L479.72,490.69 L479.71,491.76 L479.71,492.83 L479.72,493.89 L479.72,494.96 L479.72,496.02 L479.72,497.09 L479.73,498.15 L479.73,499.21 L479.74,500.28 L479.74,501.34 L479.75,502.40 L479.76,503.46 L479.77,504.52 L479.78,505.58 L479.79,506.64 L479.80,507.70 L479.82,508.76 L479.83,509.81 L479.85,510.87 L479.87,511.93 L479.89,512.98 L479.91,514.04 L479.93,515.09 L479.95,516.14 L479.98,517.20 L480.00,518.25 L480.03,519.30 L480.06,520.35 L480.09,521.40 L480.12,522.45 L480.15,523.50"/>
</g>
<path fill="#000" fill-rule="evenodd" d="M181.025,107.150 H776.900 V526.100 H181.025 Z M184.575,110.850 H773.500 V523.100 H184.575 Z"/>
<g font-family="Liberation Sans, sans-serif" fill="#000" stroke="#000" stroke-width="0.3">
<text x="269.20" y="88.50" font-size="24.7" text-anchor="start" textLength="419.6" lengthAdjust="spacing">Effect of dark counts on tolerable loss</text>
<text x="399.00" y="579.50" font-size="24.7" text-anchor="start" textLength="160.5" lengthAdjust="spacing">Total loss (dB)</text>
<text transform="translate(79.1,432.5) rotate(-90)" font-size="24.7" textLength="231.0" lengthAdjust="spacing">Rate (bits per signal)</text>
<text x="185.30" y="549.80" font-size="18.3" text-anchor="middle">10</text>
<text x="244.54" y="549.80" font-size="18.3" text-anchor="middle">15</text>
<text x="303.78" y="549.80" font-size="18.3" text-anchor="middle">20</text>
<text x="363.02" y="549.80" font-size="18.3" text-anchor="middle">25</text>
<text x="422.26" y="549.80" font-size="18.3" text-anchor="middle">30</text>
<text x="481.50" y="549.80" font-size="18.3" text-anchor="middle">35</text>
<text x="540.74" y="549.80" font-size="18.3" text-anchor="middle">40</text>
<text x="599.98" y="549.80" font-size="18.3" text-anchor="middle">45</text>
<text x="659.22" y="549.80" font-size="18.3" text-anchor="middle">50</text>
<text x="718.46" y="549.80" font-size="18.3" text-anchor="middle">55</text>
<text x="777.70" y="549.80" font-size="18.3" text-anchor="middle">60</text>
<text x="168.90" y="115.30" font-size="18.3" text-anchor="end">0.1</text>
<text x="168.90" y="167.25" font-size="18.3" text-anchor="end">0.01</text>
<text x="168.90" y="219.20" font-size="18.3" text-anchor="end">0.001</text>
<text x="168.90" y="271.15" font-size="18.3" text-anchor="end">0.0001</text>
<text x="170.60" y="323.10" font-size="18.3" text-anchor="end">1e-05</text>
<text x="170.60" y="375.05" font-size="18.3" text-anchor="end">1e-06</text>
<text x="170.60" y="427.00" font-size="18.3" text-anchor="end">1e-07</text>
<text x="170.60" y="478.95" font-size="18.3" text-anchor="end">1e-08</text>
<text x="170.60" y="530.90" font-size="18.3" text-anchor="end">1e-09</text>
<text x="596.00" y="133.90" font-size="18.6" text-anchor="start">y</text>
<text x="605.00" y="139.80" font-size="14.9" text-anchor="start">0</text>
<text x="618.00" y="133.90" font-size="18.6" text-anchor="start">=</text>
<text x="634.30" y="133.90" font-size="18.6" text-anchor="start">2x10</text>
<text x="676.00" y="125.30" font-size="14.9" text-anchor="start">-8</text>
<path d="M700.5,127.90 H752.5" stroke="#ff3414" stroke-width="1.9" fill="none"/>
<text x="596.00" y="158.65" font-size="18.6" text-anchor="start">y</text>
<text x="605.00" y="164.55" font-size="14.9" text-anchor="start">0</text>
<text x="618.00" y="158.65" font-size="18.6" text-anchor="start">=</text>
<text x="634.30" y="158.65" font-size="18.6" text-anchor="start">2x10</text>
<text x="676.00" y="150.05" font-size="14.9" text-anchor="start">-7</text>
<path d="M700.5,152.65 H752.5" stroke="#12fa1a" stroke-width="1.9" fill="none"/>
<text x="596.00" y="183.40" font-size="18.6" text-anchor="start">y</text>
<text x="605.00" y="189.30" font-size="14.9" text-anchor="start">0</text>
<text x="618.00" y="183.40" font-size="18.6" text-anchor="start">=</text>
<text x="634.30" y="183.40" font-size="18.6" text-anchor="start">2x10</text>
<text x="676.00" y="174.80" font-size="14.9" text-anchor="start">-6</text>
<path d="M700.5,177.40 H752.5" stroke="#123eff" stroke-width="1.9" fill="none"/>
<text x="596.00" y="208.15" font-size="18.6" text-anchor="start">y</text>
<text x="605.00" y="214.05" font-size="14.9" text-anchor="start">0</text>
<text x="618.00" y="208.15" font-size="18.6" text-anchor="start">=</text>
<text x="634.30" y="208.15" font-size="18.6" text-anchor="start">2x10</text>
<text x="676.00" y="199.55" font-size="14.9" text-anchor="start">-5</text>
<path d="M700.5,202.15 H752.5" stroke="#ff48ff" stroke-width="1.9" fill="none"/>
</g>
</svg>
</body></html>
